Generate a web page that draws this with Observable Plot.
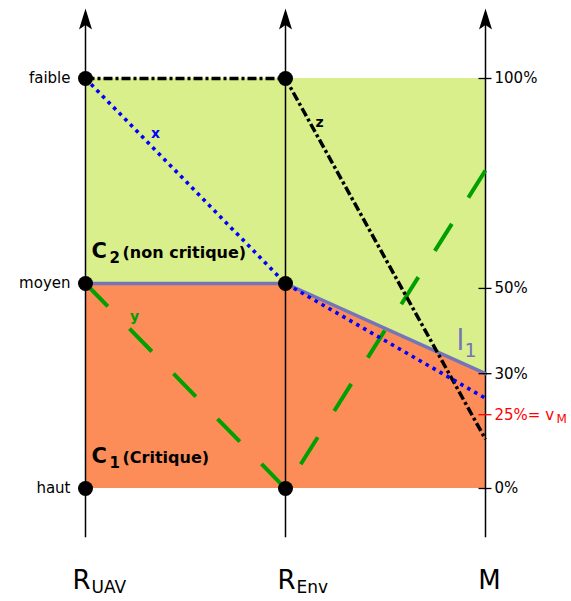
<!DOCTYPE html>
<html><head><meta charset="utf-8">
<script src="https://cdn.jsdelivr.net/npm/d3@7"></script>
<script src="https://cdn.jsdelivr.net/npm/@observablehq/plot@0.6"></script>
<style>body{margin:0;background:#fff;font-family:"DejaVu Sans",sans-serif}</style>
</head><body><div id="chart"></div>
<script>
// ---- data ----
const axisNames = ["R", "R", "M"];
const axisSubs = ["UAV", "Env", ""];
const axisIdx = [0, 1, 2];
const levelLabels = ["haut", "moyen", "faible"];
const levelPos = [0, 50, 100];
const pctLabels = ["0%", "30%", "50%", "100%"];
const pctPos = [0, 28, 48.8, 100];
const vmText = "25%= v";
const vmSub = "M";
const vmPos = 18;
const seriesX = [100, 50, 22];   // blue dotted "x"
const seriesY = [50, 0, 77.6];   // green dashed "y"
const seriesZ = [100, 100, 12];  // black dash-dot "z"
const boundaryL1 = [50, 50, 28]; // l1 boundary between C1 and C2
const topLevel = [100, 100, 100];
const dotAxes = [0, 0, 0, 1, 1, 1];
const dotLevels = [0, 50, 100, 0, 50, 100];

// ---- custom symbols ----
const arrowHead = {draw(ctx) { ctx.moveTo(0, 0); ctx.lineTo(6.5, 21); ctx.lineTo(0, 16.5); ctx.lineTo(-6.5, 21); ctx.closePath(); }};
const hTick = {draw(ctx) { ctx.moveTo(-7, 0); ctx.lineTo(6, 0); }};

const lab = (t, x, y, o) => Plot.text([t], {x, y, text: d => d, lineAnchor: "bottom", ...o});

const chart = Plot.plot({
  width: 571, height: 601,
  margin: 0,
  style: {fontFamily: "DejaVu Sans", background: "#fff"},
  x: {domain: [0, 2], range: [85, 485], axis: null},
  y: {domain: [0, 100], range: [488, 78], axis: null},
  marks: [
    Plot.areaY(axisIdx, {x: d => d, y1: i => boundaryL1[i], y2: i => topLevel[i], fill: "#d9ef8b", curve: "linear"}),
    Plot.areaY(axisIdx, {x: d => d, y1: 0, y2: i => boundaryL1[i], fill: "#fc8d59", curve: "linear"}),
    Plot.ruleX(axisIdx, {x: d => d, y1: -12, y2: 113, stroke: "black", strokeWidth: 1.5}),
    Plot.dot(axisIdx, {x: d => d, y: 117.1, symbol: arrowHead, fill: "black", stroke: "none", r: 5}),
    Plot.line(axisIdx, {x: d => d, y: i => boundaryL1[i], stroke: "#7474b8", strokeWidth: 3.5}),
    Plot.line(axisIdx, {x: d => d, y: i => seriesY[i], stroke: "#00a000", strokeWidth: 4, strokeDasharray: "32,31", strokeLinecap: "butt", strokeLinejoin: "miter"}),
    Plot.line(axisIdx, {x: d => d, y: i => seriesZ[i], stroke: "black", strokeWidth: 3.5, strokeDasharray: "9,3,3,3", strokeLinecap: "butt"}),
    Plot.line(axisIdx, {x: d => d, y: i => seriesX[i], stroke: "#0000ff", strokeWidth: 3.6, strokeDasharray: "3.5,4.5", strokeLinecap: "butt"}),
    Plot.dot(dotLevels, {x: (d, i) => dotAxes[i], y: d => d, r: 7.5, fill: "black", stroke: "none"}),
    // right axis ticks
    Plot.dot(pctPos, {x: 2, y: d => d, symbol: hTick, stroke: "black", strokeWidth: 1.3, fill: "none", r: 5}),
    Plot.dot([vmPos], {x: 2, y: d => d, symbol: hTick, stroke: "red", strokeWidth: 1.3, fill: "none", r: 5}),
    Plot.text(pctLabels, {x: 2, y: (d, i) => pctPos[i], text: d => d, textAnchor: "start", dx: 9, fontSize: 15, fill: "black"}),
    Plot.text([vmText], {x: 2, y: vmPos, text: d => d, textAnchor: "start", dx: 9, fontSize: 15, fill: "red"}),
    Plot.text([vmSub], {x: 2, y: vmPos, text: d => d, textAnchor: "start", dx: 71, dy: 4, fontSize: 12, fill: "red"}),
    // left level labels
    Plot.text(levelLabels, {x: 0, y: (d, i) => levelPos[i], text: d => d, textAnchor: "end", dx: -15, fontSize: 15, fill: "black"}),
    // bottom axis names
    lab(axisNames[0], axisIdx[0], -24.4, {textAnchor: "end", dx: 5, fontSize: 26}),
    lab(axisSubs[0], axisIdx[0], -25.6, {textAnchor: "start", dx: 6, fontSize: 17}),
    lab(axisNames[1], axisIdx[1], -24.4, {textAnchor: "end", dx: 10, fontSize: 26}),
    lab(axisSubs[1], axisIdx[1], -25.6, {textAnchor: "start", dx: 11, fontSize: 17}),
    lab(axisNames[2], axisIdx[2], -24.4, {textAnchor: "middle", dx: 4, fontSize: 26}),
    // class labels
    lab("C", 0, 56.1, {textAnchor: "start", dx: 6, fontSize: 21, fontWeight: "bold"}),
    lab("2", 0, 56.1, {textAnchor: "start", dx: 24, dy: 5, fontSize: 15, fontWeight: "bold"}),
    lab("(non critique)", 0, 56.1, {textAnchor: "start", dx: 37, fontSize: 16, fontWeight: "bold"}),
    lab("C", 0, 6.1, {textAnchor: "start", dx: 6, fontSize: 21, fontWeight: "bold"}),
    lab("1", 0, 6.1, {textAnchor: "start", dx: 24, dy: 5, fontSize: 15, fontWeight: "bold"}),
    lab("(Critique)", 0, 6.1, {textAnchor: "start", dx: 37, fontSize: 16, fontWeight: "bold"}),
    // series labels
    Plot.text(["x"], {x: 0.35, y: 86.6, text: d => d, fontSize: 14, fontWeight: "bold", fill: "#0000ff"}),
    Plot.text(["z"], {x: 1.17, y: 89.3, text: d => d, fontSize: 14, fontWeight: "bold", fill: "black"}),
    Plot.text(["y"], {x: 0.245, y: 42, text: d => d, fontSize: 14, fontWeight: "bold", fill: "#00a000"}),
    lab("l", 1.875, 33.7, {textAnchor: "middle", fontSize: 28, fill: "#7474b8"}),
    lab("1", 1.875, 33.7, {textAnchor: "start", dx: 4, dy: 7, fontSize: 19, fill: "#7474b8"})
  ]
});
document.getElementById("chart").appendChild(chart);
</script>
</body></html>
